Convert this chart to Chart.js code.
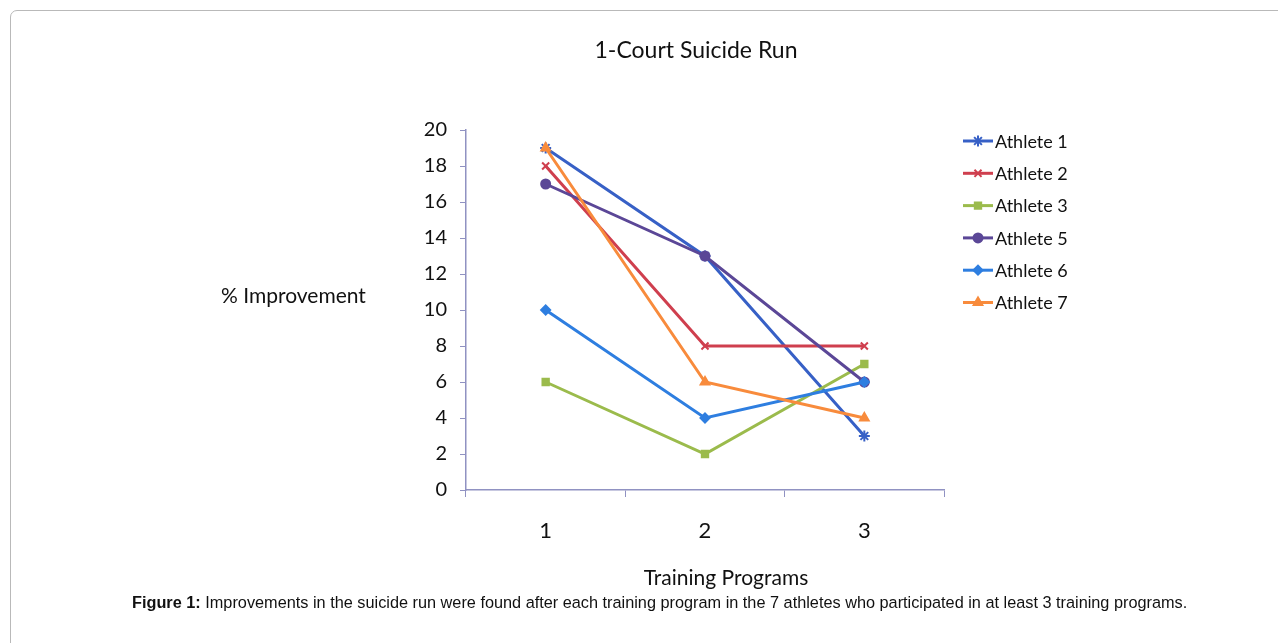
<!DOCTYPE html>
<html>
<head>
<meta charset="utf-8">
<script src="https://cdn.jsdelivr.net/npm/chart.js@4.4.1/dist/chart.umd.min.js"></script>
<style>
  html, body { margin: 0; padding: 0; background: #fff; overflow: hidden; }
  #frame {
    position: absolute; left: 10px; top: 10px; width: 1300px; height: 700px;
    border: 1.5px solid #b9b9b9; border-radius: 7px; box-sizing: border-box;
  }
  #chartBox { position: absolute; left: 200px; top: 0; width: 992px; height: 643px; }
  #caption {
    position: absolute; left: 132px; top: 593px; white-space: nowrap;
    font-family: "Liberation Sans", Arial, sans-serif; font-size: 16.3px; color: #111;
  }
</style>
</head>
<body>
<div id="frame"></div>
<div id="chartBox"><canvas id="myChart"></canvas></div>
<div id="caption"><b>Figure 1:</b> Improvements in the suicide run were found after each training program in the 7 athletes who participated in at least 3 training programs.</div>
<script>
// data
var chartTitle = '1-Court Suicide Run';
var programs = ['1', '2', '3'];
var athleteNames = ['Athlete 1', 'Athlete 2', 'Athlete 3', 'Athlete 5', 'Athlete 6', 'Athlete 7'];
var athlete1 = [19, 13, 3];
var athlete2 = [18, 8, 8];
var athlete3 = [6, 2, 7];
var athlete5 = [17, 13, 6];
var athlete6 = [10, 4, 6];
var athlete7 = [19, 6, 4];
var yTicks = [0, 2, 4, 6, 8, 10, 12, 14, 16, 18, 20];

var lineColors = ['#3760c6', '#cf3f4e', '#9bbb4c', '#5b4797', '#2e7ee0', '#f88b3c'];
var markers = ['star', 'crossRot', 'rect', 'circle', 'rectRot', 'triangle'];
var markerSize = [5.5, 5, 4.5, 4.5, 4.5, 5];
var fontName = 'Lato, "Open Sans", sans-serif';

function makeDataset(i, values){
	return {
		label : athleteNames[i],
		data : values,
		borderColor : lineColors[i],
		backgroundColor : lineColors[i],
		borderWidth : 3,
		pointStyle : markers[i],
		pointRadius : markerSize[i],
		pointBorderWidth : 2,
		pointBackgroundColor : lineColors[i],
		pointBorderColor : lineColors[i],
		tension : 0,
		fill : false,
		order : 6 - i // later athletes on top, like excel
	};
}

var chartData = {
	labels : programs,
	datasets : [
		makeDataset(0, athlete1),
		makeDataset(1, athlete2),
		makeDataset(2, athlete3),
		makeDataset(3, athlete5),
		makeDataset(4, athlete6),
		makeDataset(5, athlete7)
	]
};

// title, legend + axis titles placed the way excel lays them out
var excelBits = {
	id : 'excelBits',
	afterDraw : function(chart){
		var ctx = chart.ctx;
		var area = chart.chartArea;
		var midX = (area.left + area.right) / 2;
		ctx.save();
		ctx.fillStyle = '#111';
		ctx.textBaseline = 'middle';

		ctx.font = '23px ' + fontName;
		ctx.textAlign = 'center';
		ctx.fillText(chartTitle, midX - 9, area.top - 79);

		ctx.font = '21px ' + fontName;
		ctx.textAlign = 'left';
		ctx.fillText('% Improvement', area.left - 245, area.top + 166);
		ctx.textAlign = 'center';
		ctx.fillText('Training Programs', midX + 21, area.bottom + 88);

		ctx.font = '18px ' + fontName;
		ctx.textAlign = 'left';
		chart.data.datasets.forEach(function(ds, i){
			var x = area.right + 19;
			var y = area.top + 11 + i * 32.3;
			ctx.strokeStyle = ds.borderColor;
			ctx.lineWidth = 3;
			ctx.beginPath();
			ctx.moveTo(x, y);
			ctx.lineTo(x + 30, y);
			ctx.stroke();
			if(Chart.helpers && Chart.helpers.drawPoint){
				ctx.fillStyle = ds.borderColor;
				ctx.lineWidth = 2;
				Chart.helpers.drawPoint(ctx, {pointStyle : ds.pointStyle, radius : ds.pointRadius, borderWidth : 2}, x + 15, y);
			}
			ctx.fillStyle = '#111';
			ctx.fillText(ds.label, x + 32, y + 1);
		});
		ctx.restore();
	}
};

var chartOptions = {
	responsive : true,
	maintainAspectRatio : false,
	animation : false,
	layout : { padding : { left : 0, right : 248, top : 130, bottom : 53 } },
	plugins : {
		legend : { display : false },
		tooltip : { enabled : false },
		title : { display : false }
	},
	scales : {
		x : {
			offset : true,
			afterFit : function(scale){ scale.height = 100; },
			grid : { display : true, drawOnChartArea : false, drawTicks : true, tickLength : 7, offset : true, color : '#9092c2' },
			border : { display : true, color : '#9092c2', width : 1.5 },
			ticks : { color : '#111', padding : 21, font : { family : fontName, size : 22 } }
		},
		y : {
			min : yTicks[0],
			max : yTicks[yTicks.length - 1],
			afterFit : function(scale){ scale.width = 266; },
			grid : { display : true, drawOnChartArea : false, drawTicks : true, tickLength : 6, color : '#9092c2' },
			border : { display : true, color : '#9092c2', width : 1.5 },
			ticks : {
				stepSize : yTicks[1] - yTicks[0],
				autoSkip : false,
				color : '#111',
				padding : 13,
				font : { family : fontName, size : 20 }
			}
		}
	}
};

var ctx = document.getElementById('myChart').getContext('2d');
var myChart = new Chart(ctx, {
	type : 'line',
	data : chartData,
	options : chartOptions,
	plugins : [excelBits]
});
</script>
</body>
</html>
